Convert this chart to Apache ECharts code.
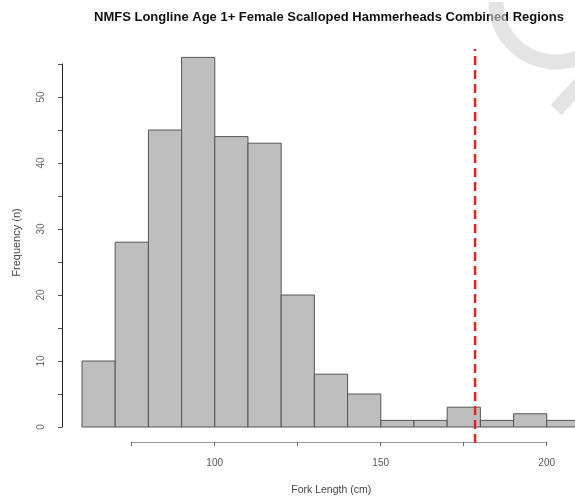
<!DOCTYPE html>
<html>
<head>
<meta charset="utf-8">
<script src="https://cdn.jsdelivr.net/npm/echarts@6/dist/echarts.min.js"></script>
<style>
  html, body { margin: 0; padding: 0; background: #fff; }
  #chart { width: 575px; height: 499px; }
</style>
</head>
<body>
<div id="chart"></div>
<script>
  // histogram bins (10 cm wide), start of each bin
  const binStarts = [60, 70, 80, 90, 100, 110, 120, 130, 140, 150, 160, 170, 180, 190, 200];
  const binWidth = 10;
  const counts = [10, 28, 45, 56, 44, 43, 20, 8, 5, 1, 1, 3, 1, 2, 1];
  // reference line (cm)
  const refLine = 178.4;
  const xLabels = [100, 150, 200];
  const yLabels = [0, 10, 20, 30, 40, 50];

  const histData = binStarts.map((s, i) => [s, s + binWidth, counts[i]]);

  const myChart = echarts.init(document.getElementById('chart'));
  const font = 'Liberation Sans, Arial, sans-serif';

  const option = {
    backgroundColor: '#fff',
    animation: false,
    title: {
      text: 'NMFS Longline Age 1+ Female Scalloped Hammerheads Combined Regions',
      left: 324,
      textAlign: 'center',
      top: 6,
      textStyle: { fontFamily: font, fontSize: 13, fontWeight: 'bold', color: '#111' }
    },
    graphic: [
      // faint watermark in the top right corner
      {
        type: 'arc', z: 100,
        shape: { cx: 556, cy: 2, r: 60, startAngle: Math.PI * 0.05, endAngle: Math.PI * 1.0, clockwise: true },
        style: { stroke: 'rgba(210,210,210,0.6)', lineWidth: 15, fill: null }
      },
      {
        type: 'line', z: 100,
        shape: { x1: 556, y1: 110, x2: 580, y2: 84 },
        style: { stroke: 'rgba(210,210,210,0.6)', lineWidth: 15 }
      }
    ],
    grid: [
      { left: 82, right: 0, top: 64, bottom: 72 },
      { left: 131.7, right: 28.3, top: 400, bottom: 57 },
      { left: 82, right: 0, top: 49, bottom: 56 }
    ],
    xAxis: [
      { gridIndex: 0, type: 'value', min: 60, max: 208.5, show: false },
      {
        gridIndex: 1, type: 'value', min: 75, max: 200, interval: 25,
        position: 'bottom',
        axisLine: { show: true, lineStyle: { color: '#999', width: 1 } },
        axisTick: { show: true, length: 4, lineStyle: { color: '#666' } },
        splitLine: { show: false },
        axisLabel: {
          margin: 16, color: '#555', fontFamily: font, fontSize: 10,
          formatter: v => xLabels.indexOf(v) >= 0 ? String(v) : ''
        },
        name: 'Fork Length (cm)', nameLocation: 'middle', nameGap: 43,
        nameTextStyle: { fontFamily: font, fontSize: 10.5, color: '#444', padding: [0, 16, 0, 0] }
      },
      { gridIndex: 2, type: 'value', min: 60, max: 208.5, show: false }
    ],
    yAxis: [
      {
        gridIndex: 0, type: 'value', min: 0, max: 55, interval: 5,
        offset: 20,
        axisLine: { show: true, lineStyle: { color: '#222', width: 1 } },
        axisTick: { show: true, length: 4, lineStyle: { color: '#555' } },
        splitLine: { show: false },
        axisLabel: {
          rotate: 90, margin: 16, color: '#666', fontFamily: font, fontSize: 10,
          formatter: v => yLabels.indexOf(v) >= 0 ? String(v) : ''
        },
        name: 'Frequency (n)', nameLocation: 'middle', nameGap: 40,
        nameTextStyle: { fontFamily: font, fontSize: 11, color: '#444', padding: [0, 0, 0, 6] }
      },
      { gridIndex: 1, type: 'value', min: 0, max: 1, show: false },
      { gridIndex: 2, type: 'value', min: 0, max: 1, show: false }
    ],
    series: [
      {
        type: 'custom',
        xAxisIndex: 0, yAxisIndex: 0,
        data: histData,
        renderItem: function (params, api) {
          const p0 = api.coord([api.value(0), api.value(2)]);
          const p1 = api.coord([api.value(1), 0]);
          return {
            type: 'rect',
            shape: { x: p0[0], y: p0[1], width: p1[0] - p0[0], height: p1[1] - p0[1] },
            style: { fill: '#bebebe', stroke: '#555', lineWidth: 1 }
          };
        }
      },
      {
        type: 'line',
        xAxisIndex: 2, yAxisIndex: 2,
        data: [[refLine, 0], [refLine, 1]],
        symbol: 'none',
        z: 10,
        lineStyle: { color: '#e0242b', width: 2.5, type: [9, 5] }
      }
    ]
  };
  myChart.setOption(option);
</script>
</body>
</html>
